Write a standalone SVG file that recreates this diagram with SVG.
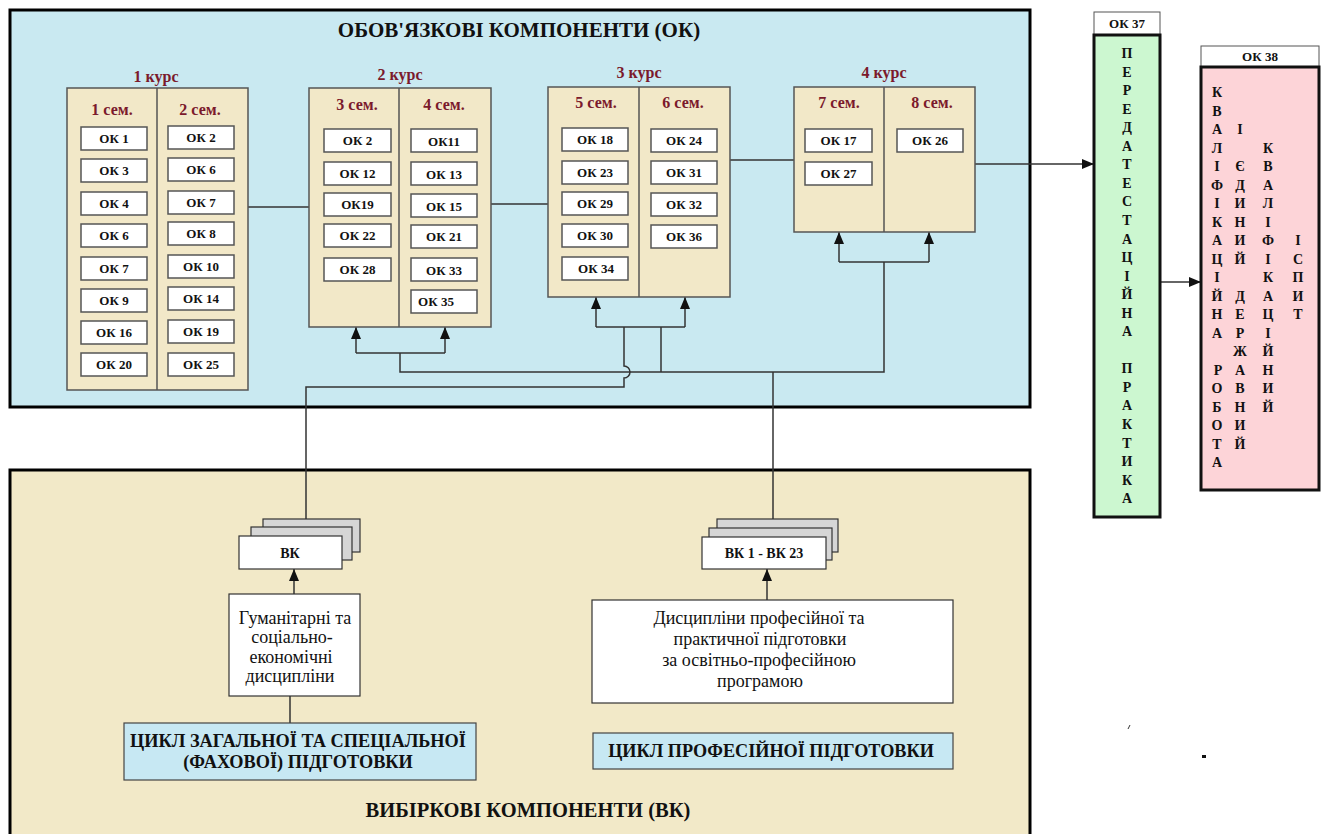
<svg xmlns="http://www.w3.org/2000/svg" width="1325" height="834" viewBox="0 0 1325 834">
<style>
text{font-family:"Liberation Serif","Times New Roman",serif;fill:#111}
.b{font-weight:bold}
.okb{fill:#fff;stroke:#555;stroke-width:1.5}
.okt{font-weight:bold;font-size:13px;text-anchor:middle}
.course{fill:#f2e8c8;stroke:#555;stroke-width:1.5}
.div{stroke:#555;stroke-width:1.5}
.sem{font-weight:bold;font-size:16px;fill:#7b1a2c;text-anchor:middle}
.ln{stroke:#333;stroke-width:1.5;fill:none}
.card{fill:#d6d6d6;stroke:#333;stroke-width:1.2}
.cardf{fill:#fff;stroke:#333;stroke-width:1.2}
.vl{font-weight:bold;font-size:14px;text-anchor:middle}
.reg{font-size:18px;text-anchor:middle}
.cyc{fill:#c7e8f3;stroke:#444;stroke-width:1.2}
.hdr{fill:#fff;stroke:#555;stroke-width:1}
</style>
<defs>
<marker id="ah" viewBox="0 0 12 10" refX="12" refY="5" markerWidth="12" markerHeight="10" markerUnits="userSpaceOnUse" orient="auto">
<path d="M0,0 L12,5 L0,10 z" fill="#111"/>
</marker>
</defs>
<rect width="1325" height="834" fill="#fff"/>

<g id="ok-area">
<rect x="10" y="10" width="1020" height="397" fill="#c9e9f1" stroke="#000" stroke-width="3"/>
<text x="519" y="37" class="b" font-size="21" text-anchor="middle">ОБОВ'ЯЗКОВІ КОМПОНЕНТИ (ОК)</text>
</g>
<g id="vk-area">
<rect x="10" y="470" width="1020" height="368" fill="#f2e9c8" stroke="#000" stroke-width="3"/>
<text x="528" y="817" class="b" font-size="20.5" text-anchor="middle">ВИБІРКОВІ КОМПОНЕНТИ (ВК)</text>
</g>

<g id="connectors">
<path class="ln" d="M248,207 H309"/>
<path class="ln" d="M491,204 H548"/>
<path class="ln" d="M730,160 H794"/>
<path class="ln" d="M975,164 H1094" marker-end="url(#ah)"/>
<path class="ln" d="M1160,282 H1201" marker-end="url(#ah)"/>
<path class="ln" d="M356,353 H445"/>
<path class="ln" d="M356,353 V327" marker-end="url(#ah)"/>
<path class="ln" d="M445,353 V327" marker-end="url(#ah)"/>
<path class="ln" d="M596,327 H685"/>
<path class="ln" d="M596,327 V297" marker-end="url(#ah)"/>
<path class="ln" d="M685,327 V297" marker-end="url(#ah)"/>
<path class="ln" d="M839,262 H929"/>
<path class="ln" d="M839,262 V232" marker-end="url(#ah)"/>
<path class="ln" d="M929,262 V232" marker-end="url(#ah)"/>
<path class="ln" d="M400,353 V372 H884 V262"/>
<path class="ln" d="M661,327 V372"/>
<path class="ln" d="M624,327 V366 A6,6 0 0 1 624,378 V387 H306 V519"/>
<path class="ln" d="M773,372 V519"/>
<path class="ln" d="M294,594 V569" marker-end="url(#ah)"/>
<path class="ln" d="M767,600 V569" marker-end="url(#ah)"/>
<path class="ln" d="M290,696 V723"/>
</g>

<g id="kurs1">
<text x="156" y="82" class="sem">1 курс</text>
<rect x="67" y="88" width="181" height="302" class="course"/>
<line x1="157" y1="88" x2="157" y2="390" class="div"/>
<text x="112" y="115" class="sem">1 сем.</text>
<text x="200" y="115" class="sem">2 сем.</text>
<rect x="81" y="127" width="66" height="23" class="okb"/><text x="114" y="143" class="okt">ОК 1</text>
<rect x="81" y="159" width="66" height="23" class="okb"/><text x="114" y="175" class="okt">ОК 3</text>
<rect x="81" y="192" width="66" height="23" class="okb"/><text x="114" y="208" class="okt">ОК 4</text>
<rect x="81" y="224" width="66" height="23" class="okb"/><text x="114" y="240" class="okt">ОК 6</text>
<rect x="81" y="257" width="66" height="23" class="okb"/><text x="114" y="273" class="okt">ОК 7</text>
<rect x="81" y="289" width="66" height="23" class="okb"/><text x="114" y="305" class="okt">ОК 9</text>
<rect x="81" y="321" width="66" height="23" class="okb"/><text x="114" y="337" class="okt">ОК 16</text>
<rect x="81" y="353" width="66" height="23" class="okb"/><text x="114" y="369" class="okt">ОК 20</text>
<rect x="168" y="126" width="66" height="23" class="okb"/><text x="201" y="142" class="okt">ОК 2</text>
<rect x="168" y="158" width="66" height="23" class="okb"/><text x="201" y="174" class="okt">ОК 6</text>
<rect x="168" y="191" width="66" height="23" class="okb"/><text x="201" y="207" class="okt">ОК 7</text>
<rect x="168" y="222" width="66" height="23" class="okb"/><text x="201" y="238" class="okt">ОК 8</text>
<rect x="168" y="255" width="66" height="23" class="okb"/><text x="201" y="271" class="okt">ОК 10</text>
<rect x="168" y="287" width="66" height="23" class="okb"/><text x="201" y="303" class="okt">ОК 14</text>
<rect x="168" y="320" width="66" height="23" class="okb"/><text x="201" y="336" class="okt">ОК 19</text>
<rect x="168" y="353" width="66" height="23" class="okb"/><text x="201" y="369" class="okt">ОК 25</text>
</g>

<g id="kurs2">
<text x="400" y="80" class="sem">2 курс</text>
<rect x="309" y="88" width="182" height="239" class="course"/>
<line x1="399" y1="88" x2="399" y2="327" class="div"/>
<text x="357" y="110" class="sem">3 сем.</text>
<text x="444" y="110" class="sem">4 сем.</text>
<rect x="324" y="129" width="67" height="23" class="okb"/><text x="357.5" y="145" class="okt">ОК 2</text>
<rect x="324" y="162" width="67" height="23" class="okb"/><text x="357.5" y="178" class="okt">ОК 12</text>
<rect x="324" y="193" width="67" height="23" class="okb"/><text x="357.5" y="209" class="okt">ОК19</text>
<rect x="324" y="224" width="67" height="23" class="okb"/><text x="357.5" y="240" class="okt">ОК 22</text>
<rect x="324" y="258" width="67" height="23" class="okb"/><text x="357.5" y="274" class="okt">ОК 28</text>
<rect x="411" y="129" width="66" height="23" class="okb"/><text x="444" y="146" class="okt">ОК11</text>
<rect x="411" y="162" width="66" height="23" class="okb"/><text x="444" y="179" class="okt">ОК 13</text>
<rect x="411" y="194" width="66" height="23" class="okb"/><text x="444" y="211" class="okt">ОК 15</text>
<rect x="411" y="225" width="66" height="23" class="okb"/><text x="444" y="241" class="okt">ОК 21</text>
<rect x="411" y="258" width="66" height="23" class="okb"/><text x="444" y="275" class="okt">ОК 33</text>
<rect x="411" y="290" width="66" height="23" class="okb"/><text x="436" y="306" class="okt">ОК 35</text>
</g>

<g id="kurs3">
<text x="639" y="78" class="sem">3 курс</text>
<rect x="548" y="87" width="182" height="210" class="course"/>
<line x1="639" y1="87" x2="639" y2="297" class="div"/>
<text x="596" y="108" class="sem">5 сем.</text>
<text x="683" y="108" class="sem">6 сем.</text>
<rect x="562" y="128" width="66" height="23" class="okb"/><text x="595" y="144" class="okt">ОК 18</text>
<rect x="562" y="161" width="66" height="23" class="okb"/><text x="595" y="177" class="okt">ОК 23</text>
<rect x="562" y="192" width="66" height="23" class="okb"/><text x="595" y="208" class="okt">ОК 29</text>
<rect x="562" y="224" width="66" height="23" class="okb"/><text x="595" y="240" class="okt">ОК 30</text>
<rect x="562" y="257" width="66" height="23" class="okb"/><text x="596" y="273" class="okt">ОК 34</text>
<rect x="651" y="129" width="66" height="23" class="okb"/><text x="684" y="145" class="okt">ОК 24</text>
<rect x="651" y="161" width="66" height="23" class="okb"/><text x="684" y="177" class="okt">ОК 31</text>
<rect x="651" y="193" width="66" height="23" class="okb"/><text x="684" y="209" class="okt">ОК 32</text>
<rect x="651" y="225" width="66" height="23" class="okb"/><text x="684" y="241" class="okt">ОК 36</text>
</g>

<g id="kurs4">
<text x="884" y="78" class="sem">4 курс</text>
<rect x="794" y="87" width="181" height="145" class="course"/>
<line x1="884" y1="87" x2="884" y2="232" class="div"/>
<text x="839" y="108" class="sem">7 сем.</text>
<text x="932" y="108" class="sem">8 сем.</text>
<rect x="805" y="129" width="67" height="23" class="okb"/><text x="838.5" y="145" class="okt">ОК 17</text>
<rect x="805" y="162" width="67" height="23" class="okb"/><text x="838.5" y="178" class="okt">ОК 27</text>
<rect x="897" y="129" width="66" height="23" class="okb"/><text x="930" y="145" class="okt">ОК 26</text>
</g>

<g id="ok37">
<rect x="1094" y="12" width="66" height="23" class="hdr"/>
<text x="1127" y="28" class="okt">ОК 37</text>
<rect x="1094" y="35" width="66" height="482" fill="#ccf7d0" stroke="#111" stroke-width="3"/>
<text class="vl"><tspan x="1127" y="58">П</tspan><tspan x="1127" y="76.5">Е</tspan><tspan x="1127" y="95.1">Р</tspan><tspan x="1127" y="113.6">Е</tspan><tspan x="1127" y="132.2">Д</tspan><tspan x="1127" y="150.7">А</tspan><tspan x="1127" y="169.3">Т</tspan><tspan x="1127" y="187.8">Е</tspan><tspan x="1127" y="206.4">С</tspan><tspan x="1127" y="224.9">Т</tspan><tspan x="1127" y="243.5">А</tspan><tspan x="1127" y="262">Ц</tspan><tspan x="1127" y="280.6">І</tspan><tspan x="1127" y="299.1">Й</tspan><tspan x="1127" y="317.7">Н</tspan><tspan x="1127" y="336.2">А</tspan><tspan x="1127" y="373.3">П</tspan><tspan x="1127" y="391.9">Р</tspan><tspan x="1127" y="410.4">А</tspan><tspan x="1127" y="429">К</tspan><tspan x="1127" y="447.5">Т</tspan><tspan x="1127" y="466.1">И</tspan><tspan x="1127" y="484.6">К</tspan><tspan x="1127" y="503.2">А</tspan></text>
</g>

<g id="ok38">
<rect x="1201" y="46" width="118" height="21" class="hdr"/>
<text x="1260" y="61" class="okt">ОК 38</text>
<rect x="1201" y="67" width="118" height="423" fill="#fdd4d8" stroke="#111" stroke-width="3"/>
<text class="vl"><tspan x="1217" y="97">К</tspan><tspan x="1217" y="115.5">В</tspan><tspan x="1217" y="134">А</tspan><tspan x="1217" y="152.5">Л</tspan><tspan x="1217" y="171">І</tspan><tspan x="1217" y="189.5">Ф</tspan><tspan x="1217" y="208">І</tspan><tspan x="1217" y="226.5">К</tspan><tspan x="1217" y="245">А</tspan><tspan x="1217" y="263.5">Ц</tspan><tspan x="1217" y="282">І</tspan><tspan x="1217" y="300.5">Й</tspan><tspan x="1217" y="319">Н</tspan><tspan x="1217" y="337.5">А</tspan><tspan x="1218" y="374.5">Р</tspan><tspan x="1217" y="393">О</tspan><tspan x="1217" y="411.5">Б</tspan><tspan x="1217" y="430">О</tspan><tspan x="1217" y="448.5">Т</tspan><tspan x="1217" y="467">А</tspan></text>
<text class="vl"><tspan x="1240" y="134">І</tspan><tspan x="1240" y="171">Є</tspan><tspan x="1240" y="189.5">Д</tspan><tspan x="1240" y="208">И</tspan><tspan x="1240" y="226.5">Н</tspan><tspan x="1240" y="245">И</tspan><tspan x="1240" y="263.5">Й</tspan><tspan x="1240" y="300.5">Д</tspan><tspan x="1240" y="319">Е</tspan><tspan x="1240" y="337.5">Р</tspan><tspan x="1240" y="356">Ж</tspan><tspan x="1240" y="374.5">А</tspan><tspan x="1240" y="393">В</tspan><tspan x="1240" y="411.5">Н</tspan><tspan x="1240" y="430">И</tspan><tspan x="1240" y="448.5">Й</tspan></text>
<text class="vl"><tspan x="1268" y="152.5">К</tspan><tspan x="1268" y="171">В</tspan><tspan x="1268" y="189.5">А</tspan><tspan x="1268" y="208">Л</tspan><tspan x="1268" y="226.5">І</tspan><tspan x="1268" y="245">Ф</tspan><tspan x="1268" y="263.5">І</tspan><tspan x="1268" y="282">К</tspan><tspan x="1268" y="300.5">А</tspan><tspan x="1268" y="319">Ц</tspan><tspan x="1268" y="337.5">І</tspan><tspan x="1268" y="356">Й</tspan><tspan x="1268" y="374.5">Н</tspan><tspan x="1268" y="393">И</tspan><tspan x="1268" y="411.5">Й</tspan></text>
<text class="vl"><tspan x="1298" y="245">І</tspan><tspan x="1298" y="263.5">С</tspan><tspan x="1298" y="282">П</tspan><tspan x="1298" y="300.5">И</tspan><tspan x="1298" y="319">Т</tspan></text>
</g>

<g id="vk-stack">
<rect x="263" y="519" width="97" height="33" class="card"/>
<rect x="251" y="527" width="101" height="33" class="card"/>
<rect x="239" y="536" width="103" height="33" class="cardf"/>
<text x="290" y="558" class="vl">ВК</text>
</g>
<g id="vk1-23-stack">
<rect x="717" y="519" width="121" height="33" class="card"/>
<rect x="709" y="528" width="123" height="32" class="card"/>
<rect x="702" y="537" width="124" height="32" class="cardf"/>
<text x="764" y="558" class="vl">ВК 1 - ВК 23</text>
</g>
<g id="humanities">
<rect x="229" y="594" width="131" height="102" class="cardf"/>
<text class="reg"><tspan x="295" y="624">Гуманітарні та</tspan><tspan x="292" y="643">соціально-</tspan><tspan x="291" y="663">економічні</tspan><tspan x="290" y="682">дисципліни</tspan></text>
</g>
<g id="professional">
<rect x="592" y="600" width="361" height="103" class="cardf"/>
<text class="reg"><tspan x="759" y="624">Дисципліни професійної та</tspan><tspan x="760" y="645">практичної підготовки</tspan><tspan x="759" y="666">за освітньо-професійною</tspan><tspan x="760" y="687">програмою</tspan></text>
</g>
<g id="cycle-general">
<rect x="124" y="723" width="352" height="57" class="cyc"/>
<text class="b" font-size="18.3" text-anchor="middle"><tspan x="298" y="747">ЦИКЛ ЗАГАЛЬНОЇ ТА СПЕЦІАЛЬНОЇ</tspan><tspan x="298" y="768">(ФАХОВОЇ) ПІДГОТОВКИ</tspan></text>
</g>
<g id="cycle-prof">
<rect x="593" y="733" width="360" height="36" class="cyc"/>
<text x="771" y="757" class="b" font-size="18.2" text-anchor="middle">ЦИКЛ ПРОФЕСІЙНОЇ ПІДГОТОВКИ</text>
</g>
<g id="marks">
<rect x="1202" y="755" width="4" height="3" fill="#111"/>
<path d="M1128,729 L1130,725" stroke="#333" stroke-width="1"/>
</g>
</svg>
